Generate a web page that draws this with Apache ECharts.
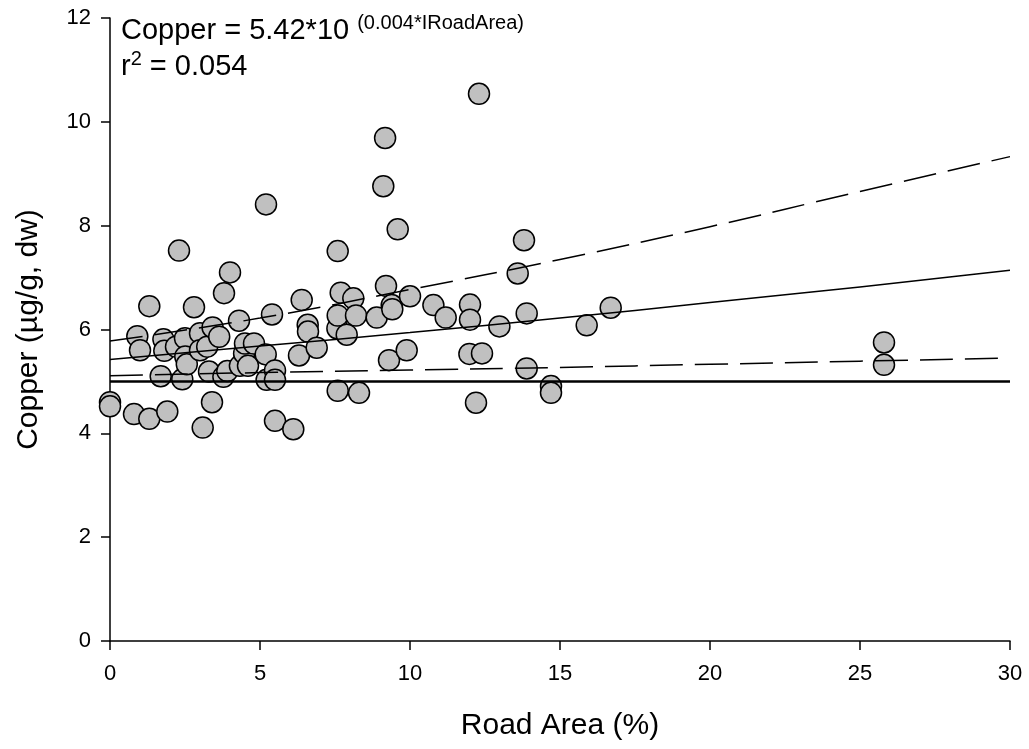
<!DOCTYPE html>
<html>
<head>
<meta charset="utf-8">
<script src="https://cdn.jsdelivr.net/npm/echarts@6/dist/echarts.min.js"></script>
<style>html,body{margin:0;padding:0;background:#fff;}#chart{width:1029px;height:749px;}</style>
</head>
<body>
<div id="chart"></div>
<script>
// Observed samples: road area (%) and copper (µg/g dw)
var roadArea = [0,0,0.8,0.91,1.0,1.31,1.31,1.69,1.78,1.81,1.91,2.2,2.3,2.41,2.5,2.51,2.56,2.8,3.0,3.0,3.09,3.24,3.3,3.4,3.42,3.64,3.78,3.8,3.91,4.0,4.3,4.33,4.47,4.5,4.6,4.8,5.19,5.2,5.22,5.4,5.5,5.5,5.5,6.11,6.3,6.39,6.59,6.6,6.89,7.58,7.59,7.59,7.59,7.69,7.89,8.11,8.2,8.3,8.89,9.11,9.17,9.2,9.3,9.39,9.41,9.59,9.89,10.0,10.78,11.19,11.98,12.0,12.0,12.2,12.3,12.4,12.98,13.59,13.8,13.89,13.89,14.7,14.7,15.89,16.69,25.8,25.8];
var copper = [4.60,4.52,4.37,5.87,5.60,6.45,4.28,5.10,5.81,5.59,4.42,5.67,7.52,5.04,5.83,5.48,5.33,6.43,5.93,5.60,4.11,5.67,5.19,4.60,6.04,5.86,5.09,6.70,5.20,7.10,6.17,5.30,5.54,5.73,5.30,5.73,5.52,8.41,5.03,6.29,5.21,5.03,4.24,4.08,5.50,6.57,6.09,5.96,5.65,6.02,7.51,6.27,4.82,6.71,5.90,6.60,6.27,4.78,6.23,8.76,9.69,6.84,5.41,6.47,6.39,7.93,5.60,6.64,6.47,6.23,5.53,6.48,6.19,4.59,10.54,5.54,6.06,7.08,7.72,6.31,5.25,4.91,4.78,6.08,6.42,5.75,5.32];
// Fit line and 95% confidence band
var curveX = [0,5,10,15,20,25,30];
var fitY   = [5.42,5.68,5.94,6.22,6.52,6.82,7.14];
var upperY = [5.78,6.22,6.77,7.35,7.98,8.66,9.33];
var lowerY = [5.11,5.17,5.22,5.27,5.33,5.39,5.45];
var baselineX = [0,30];
var baselineY = [5,5];
var xTicks = [0,5,10,15,20,25,30];
var yTicks = [0,2,4,6,8,10,12];

var FONT = "'Liberation Sans', Arial, sans-serif";
function pairs(xs, ys){ return xs.map(function(x,i){ return [x, ys[i]]; }); }

var baseData = pairs(baselineX, baselineY);
baseData[baseData.length-1] = {
  value: baseData[baseData.length-1],
  label: { show: true, position: 'bottom', align: 'right', distance: 5, offset: [3, 0],
           formatter: 'Penn Cove, Baseline', fontSize: 20, fontFamily: FONT, color: '#000' }
};

var chart = echarts.init(document.getElementById('chart'), null, {renderer: 'canvas'});
chart.setOption({
  animation: false,
  backgroundColor: '#fff',
  grid: { left: 110, right: 19, top: 18, bottom: 108, containLabel: false },
  title: {
    left: 121, top: 13, padding: 0,
    text: '{a|Copper = 5.42*10 }{s|(0.004*IRoadArea)}\n{a|r}{s|2}{a| = 0.054}',
    textStyle: {
      fontWeight: 'normal',
      rich: {
        a: { fontSize: 29, fontFamily: FONT, fontWeight: 'normal', color: '#000', lineHeight: 36 },
        s: { fontSize: 20, fontFamily: FONT, fontWeight: 'normal', color: '#000', verticalAlign: 'top', lineHeight: 14 }
      }
    }
  },
  xAxis: {
    type: 'value', min: xTicks[0], max: xTicks[xTicks.length-1], interval: 5,
    name: 'Road Area (%)', nameLocation: 'middle', nameGap: 70,
    nameTextStyle: { fontSize: 30, fontFamily: FONT, color: '#000' },
    axisLine: { show: true, onZero: false, lineStyle: { color: '#000', width: 1.5 } },
    axisTick: { show: true, inside: false, length: 9, lineStyle: { color: '#000', width: 1.5 } },
    axisLabel: { fontSize: 22, fontFamily: FONT, color: '#000', margin: 22 },
    splitLine: { show: false }
  },
  yAxis: {
    type: 'value', min: yTicks[0], max: yTicks[yTicks.length-1], interval: 2,
    name: 'Copper (µg/g, dw)', nameLocation: 'middle', nameGap: 66,
    nameTextStyle: { fontSize: 30, fontFamily: FONT, color: '#000' },
    axisLine: { show: true, onZero: false, lineStyle: { color: '#000', width: 1.5 } },
    axisTick: { show: true, inside: false, length: 9, lineStyle: { color: '#000', width: 1.5 } },
    axisLabel: { fontSize: 22, fontFamily: FONT, color: '#000', margin: 19 },
    splitLine: { show: false }
  },
  series: [
    { type: 'scatter', data: pairs(roadArea, copper), symbol: 'circle', symbolSize: 21, z: 2,
      itemStyle: { color: '#c0c0c0', borderColor: '#000', borderWidth: 1.5, opacity: 1 } },
    { type: 'line', data: pairs(curveX, fitY), smooth: true, showSymbol: false, z: 3,
      lineStyle: { color: '#000', width: 1.5 } },
    { type: 'line', data: pairs(curveX, upperY), smooth: true, showSymbol: false, z: 3,
      lineStyle: { color: '#000', width: 1.5, type: [33, 12] } },
    { type: 'line', data: pairs(curveX, lowerY), smooth: true, showSymbol: false, z: 3,
      lineStyle: { color: '#000', width: 1.5, type: [33, 12] } },
    { type: 'line', data: baseData, showSymbol: false, z: 3,
      lineStyle: { color: '#000', width: 2.5 } }
  ]
});
</script>
</body>
</html>
